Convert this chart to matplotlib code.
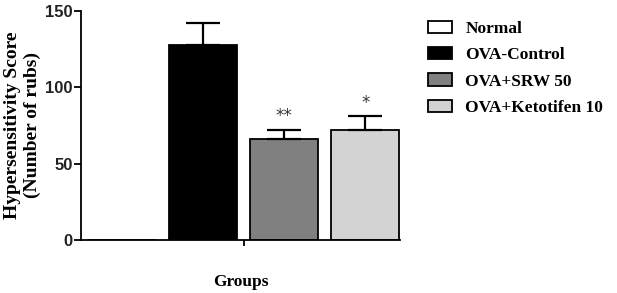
import matplotlib
matplotlib.use("Agg")
import matplotlib.pyplot as plt
from matplotlib.patches import Patch

groups = ["Normal", "OVA-Control", "OVA+SRW 50", "OVA+Ketotifen 10"]
means = [0, 128, 66, 72]
errors = [0, 14, 6, 9]
stars = ["", "", "**", "*"]
colors = ["white", "black", "#808080", "#d3d3d3"]

serif = ["Liberation Serif", "DejaVu Serif"]
sans = ["Liberation Sans", "DejaVu Sans"]

fig = plt.figure(figsize=(6.17, 2.93), dpi=100)
ax = fig.add_axes([81 / 617, 1 - 240 / 293, 319 / 617, 229 / 293])

pos = list(range(len(groups)))
ax.bar(pos, means, width=0.84, color=colors, edgecolor="black", linewidth=1.3, zorder=2)
for x, m, e in zip(pos, means, errors):
    if e > 0:
        ax.errorbar(x, m, yerr=[[0], [e]], fmt="none", ecolor="black",
                    elinewidth=1.6, capsize=12.5, capthick=1.6, zorder=3)
for x, m, e, s in zip(pos, means, errors, stars):
    if s:
        ax.text(x, m + e + 3, s, ha="center", va="bottom", fontsize=12, color="#333333")

ax.set_xlim(-0.51, 3.43)
ax.set_ylim(0, 150)
ax.set_yticks([0, 50, 100, 150])
ax.set_xticks([1.5])
ax.set_xticklabels([""])
for s in ["top", "right"]:
    ax.spines[s].set_visible(False)
for s in ["left", "bottom"]:
    ax.spines[s].set_linewidth(1.3)
ax.tick_params(axis="y", length=5, width=1.3, labelsize=12, pad=1)
ax.tick_params(axis="x", length=4, width=1.3)
for t in ax.get_yticklabels():
    t.set_fontfamily(sans)
    t.set_fontweight("bold")
    t.set_color("#222222")

ax.set_ylabel("Hypersensitivity Score\n(Number of rubs)", family=serif,
              fontweight="bold", fontsize=14, labelpad=3, linespacing=1.2)
ax.set_xlabel("Groups", family=serif, fontweight="bold", fontsize=12.5, labelpad=17)

handles = [Patch(facecolor=c, edgecolor="black", linewidth=1.3) for c in colors]
fig.legend(handles, groups, loc="upper left", bbox_to_anchor=(421 / 617, 1 - 14 / 293),
           frameon=False, prop={"family": serif, "weight": "bold", "size": 12.5},
           handlelength=1.4, handleheight=0.7, handletextpad=0.75, labelspacing=0.58,
           borderaxespad=0)

fig.savefig("out.png", dpi=100)
